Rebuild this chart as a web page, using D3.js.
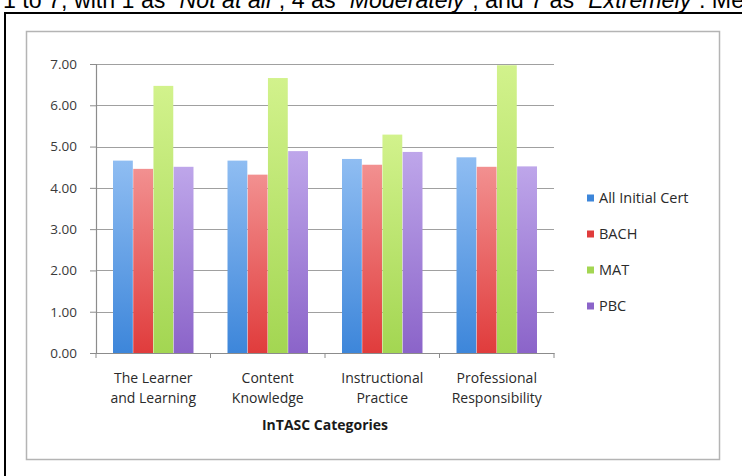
<!DOCTYPE html>
<html>
<head>
<meta charset="utf-8">
<script src="https://cdn.jsdelivr.net/npm/d3@7/dist/d3.min.js"></script>
<style>
  html, body { margin: 0; padding: 0; background: #fff; }
  svg { display: block; }
</style>
</head>
<body>
<svg id="chart" width="742" height="476"></svg>
<script>
// InTASC category ratings by certification route
const categories = [
  ["The Learner", "and Learning"],
  ["Content", "Knowledge"],
  ["Instructional", "Practice"],
  ["Professional", "Responsibility"]
];
const seriesNames = ["All Initial Cert", "BACH", "MAT", "PBC"];
const allInitialCert = [4.66, 4.66, 4.70, 4.74];
const bach = [4.46, 4.32, 4.56, 4.51];
const mat = [6.47, 6.66, 5.29, 6.97];
const pbc = [4.51, 4.89, 4.87, 4.52];
const yTicks = [0, 1, 2, 3, 4, 5, 6, 7];
const colors = [
  ["#8fbdf2", "#3d86da"],
  ["#f29090", "#e03c3c"],
  ["#d2f28c", "#a3d652"],
  ["#bea6ea", "#8b64c9"]
];

const seriesValues = [allInitialCert, bach, mat, pbc];
const svg = d3.select("#chart");
const labelFont = "'Open Sans', Lato, sans-serif";

// page text above the figure
const para = svg.append("text")
  .attr("x", 3).attr("y", 8)
  .attr("font-family", "Liberation Sans, Arial, sans-serif")
  .attr("font-size", 23.2)
  .attr("fill", "#000");
[["1 to 7, with 1 as \u201C", false], ["Not at all", true], ["\u201D, 4 as \u201C", false],
 ["Moderately", true], ["\u201D, and 7 as \u201C", false], ["Extremely", true], ["\u201D. Me", false]]
  .forEach(([t, it]) => para.append("tspan").attr("font-style", it ? "italic" : "normal").text(t));

// figure border
svg.append("line").attr("x1", 4).attr("x2", 742).attr("y1", 13).attr("y2", 13)
  .attr("stroke", "#000").attr("stroke-width", 2);
svg.append("line").attr("x1", 5).attr("x2", 5).attr("y1", 12).attr("y2", 476)
  .attr("stroke", "#000").attr("stroke-width", 2);

// chart frame
svg.append("rect").attr("x", 26.5).attr("y", 31.5).attr("width", 693).attr("height", 428)
  .attr("fill", "#fff").attr("stroke", "#b4b4b4").attr("stroke-width", 1.5);

const defs = svg.append("defs");
colors.forEach((c, i) => {
  const g = defs.append("linearGradient").attr("id", "grad" + i)
    .attr("x1", 0).attr("y1", 0).attr("x2", 0).attr("y2", 1);
  g.append("stop").attr("offset", "0%").attr("stop-color", c[0]);
  g.append("stop").attr("offset", "100%").attr("stop-color", c[1]);
});

const plot = { left: 96, right: 554, top: 64, bottom: 353 };

const x0 = d3.scaleBand().domain(d3.range(categories.length))
  .range([plot.left, plot.right]).paddingInner(0.29).paddingOuter(0.145);
const x1 = d3.scaleBand().domain(d3.range(seriesNames.length))
  .range([0, x0.bandwidth()]).padding(0.02);
const y = d3.scaleLinear().domain([0, 7]).range([plot.bottom, plot.top]);

// gridlines
svg.append("g").selectAll("line").data(yTicks.slice(1)).join("line")
  .attr("x1", plot.left).attr("x2", plot.right)
  .attr("y1", d => Math.round(y(d)) + 0.5).attr("y2", d => Math.round(y(d)) + 0.5)
  .attr("stroke", "#a0a0a0").attr("stroke-width", 1.2);

// bars
const groups = svg.append("g").selectAll("g").data(d3.range(categories.length)).join("g")
  .attr("transform", i => `translate(${x0(i)},0)`);
groups.selectAll("rect")
  .data(i => seriesValues.map((vals, s) => ({ s, v: vals[i] })))
  .join("rect")
  .attr("x", d => x1(d.s))
  .attr("width", x1.bandwidth())
  .attr("y", d => y(d.v))
  .attr("height", d => y(0) - y(d.v))
  .attr("fill", d => `url(#grad${d.s})`);

// y axis
const yAxis = svg.append("g").attr("transform", `translate(${plot.left},0)`)
  .call(d3.axisLeft(y).tickValues(yTicks).tickFormat(d3.format(".2f")).tickSize(6).tickPadding(13));
yAxis.select(".domain").attr("stroke", "#8c8c8c").attr("stroke-width", 1.2);
yAxis.selectAll(".tick line").attr("stroke", "#8c8c8c");
yAxis.selectAll(".tick text").attr("fill", "#3a3a3a")
  .attr("font-family", labelFont).attr("font-size", 13.5);

// x axis
const xAxis = svg.append("g").attr("transform", `translate(0,${plot.bottom})`)
  .call(d3.axisBottom(x0).tickFormat("").tickSize(0));
xAxis.select(".domain").attr("stroke", "#8c8c8c").attr("stroke-width", 1.2);
svg.append("g").selectAll("line").data(d3.range(categories.length + 1)).join("line")
  .attr("x1", i => plot.left + i * (plot.right - plot.left) / categories.length)
  .attr("x2", i => plot.left + i * (plot.right - plot.left) / categories.length)
  .attr("y1", plot.bottom).attr("y2", plot.bottom + 5)
  .attr("stroke", "#8c8c8c");

// category labels
const catLabels = svg.append("g").selectAll("text").data(categories).join("text")
  .attr("x", (d, i) => x0(i) + x0.bandwidth() / 2)
  .attr("y", 383)
  .attr("text-anchor", "middle")
  .attr("font-family", labelFont)
  .attr("font-size", 14)
  .attr("fill", "#2a2a2a");
catLabels.selectAll("tspan").data(d => d).join("tspan")
  .attr("x", function () { return d3.select(this.parentNode).attr("x"); })
  .attr("dy", (d, i) => i === 0 ? 0 : 20)
  .text(d => d);

// axis title
svg.append("text")
  .attr("x", (plot.left + plot.right) / 2).attr("y", 430)
  .attr("text-anchor", "middle")
  .attr("font-family", labelFont)
  .attr("font-weight", "bold").attr("font-size", 14)
  .attr("fill", "#1a1a1a")
  .text("InTASC Categories");

// legend
const legend = svg.append("g").selectAll("g").data(seriesNames).join("g")
  .attr("transform", (d, i) => `translate(587,${198 + i * 36})`);
legend.append("rect").attr("x", 0).attr("y", -3.5).attr("width", 7).attr("height", 7)
  .attr("fill", (d, i) => colors[i][1]);
legend.append("text").attr("x", 12).attr("y", 0).attr("dy", "0.35em")
  .attr("font-family", labelFont).attr("font-size", 14.5)
  .attr("fill", "#2a2a2a")
  .text(d => d);
</script>
</body>
</html>
